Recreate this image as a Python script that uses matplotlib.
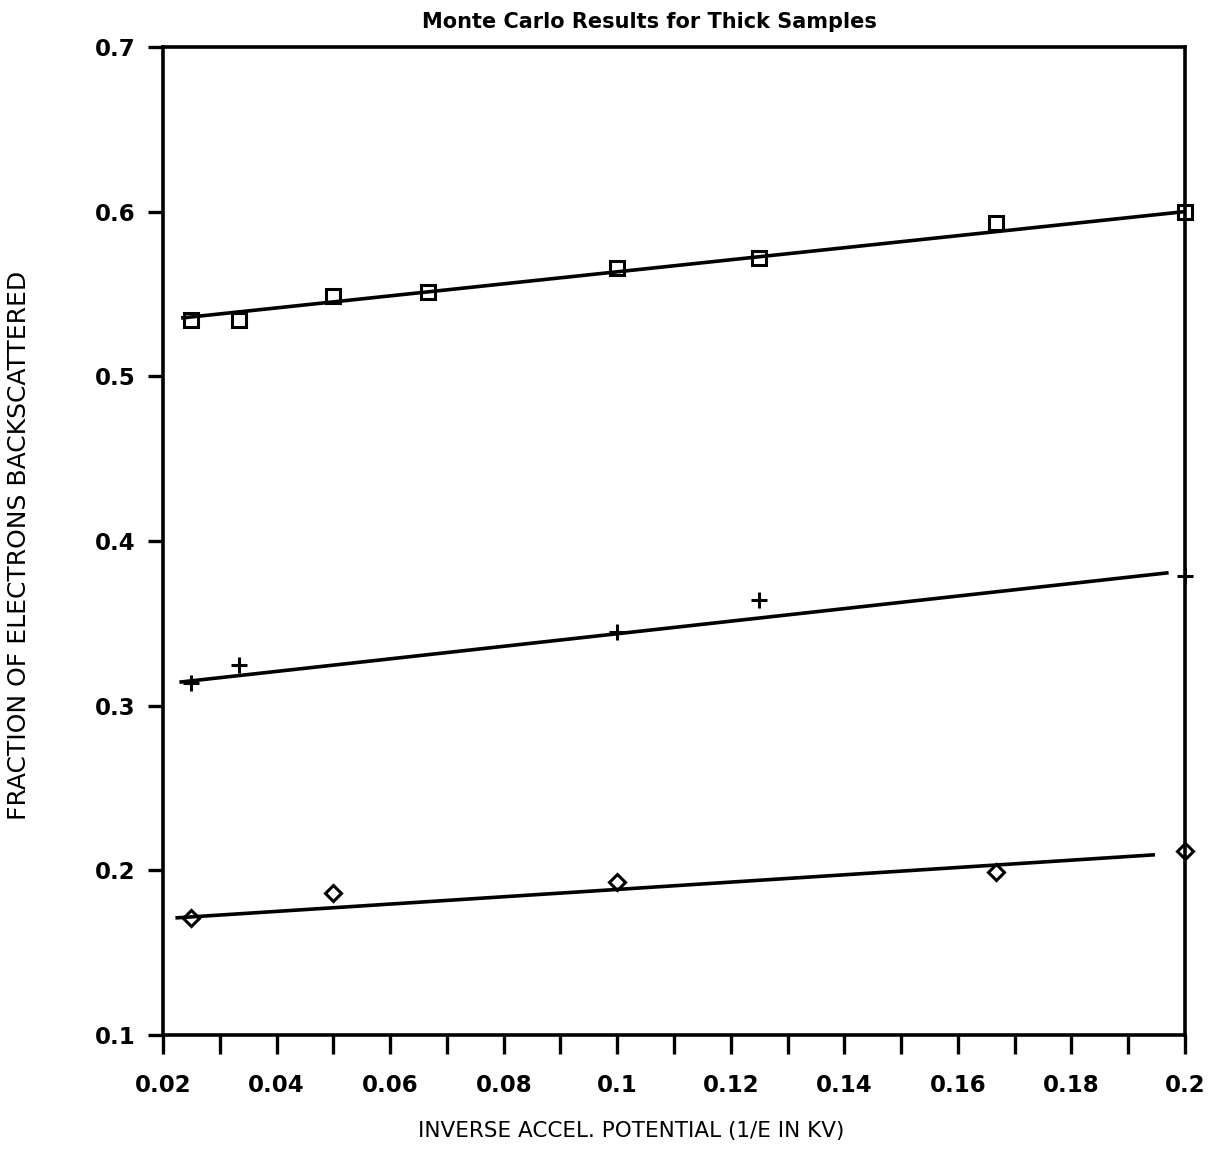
import matplotlib
matplotlib.use("Agg")
import matplotlib.pyplot as plt
import numpy as np

plt.rcParams['font.family'] = ['DejaVu Sans']

# Data
sq_x = [0.025, 0.0333, 0.05, 0.0667, 0.1, 0.125, 0.1667, 0.2]
sq_y = [0.534, 0.534, 0.549, 0.551, 0.566, 0.572, 0.593, 0.600]

pl_x = [0.025, 0.0333, 0.1, 0.125, 0.2]
pl_y = [0.314, 0.325, 0.345, 0.364, 0.379]

di_x = [0.025, 0.05, 0.1, 0.1667, 0.2]
di_y = [0.171, 0.186, 0.193, 0.199, 0.212]

# fitted lines (end points)
sq_fit_x = [0.0235, 0.2]
sq_fit_y = [0.5355, 0.600]
pl_fit_x = [0.0232, 0.1968]
pl_fit_y = [0.3144, 0.3806]
di_fit_x = [0.0225, 0.1944]
di_fit_y = [0.1712, 0.2094]

xticks = [0.02, 0.04, 0.06, 0.08, 0.1, 0.12, 0.14, 0.16, 0.18, 0.2]
xtick_labels = ['0.02', '0.04', '0.06', '0.08', '0.1', '0.12', '0.14', '0.16', '0.18', '0.2']
xminor = [0.03, 0.05, 0.07, 0.09, 0.11, 0.13, 0.15, 0.17, 0.19]
yticks = [0.1, 0.2, 0.3, 0.4, 0.5, 0.6, 0.7]
ytick_labels = ['0.1', '0.2', '0.3', '0.4', '0.5', '0.6', '0.7']

fig = plt.figure(figsize=(12.14, 11.73), dpi=100)
ax = fig.add_axes([0.1343, 0.1176, 0.8418, 0.8424])

ax.plot(sq_fit_x, sq_fit_y, color='black', lw=2.6)
ax.plot(pl_fit_x, pl_fit_y, color='black', lw=2.6)
ax.plot(di_fit_x, di_fit_y, color='black', lw=2.6)

ax.plot(sq_x, sq_y, ls='none', marker='s', ms=10, mfc='none', mec='black', mew=2.2, clip_on=False)
ax.plot(pl_x, pl_y, ls='none', marker='+', ms=12, mec='black', mew=2.2, clip_on=False)
ax.plot(di_x, di_y, ls='none', marker='D', ms=8, mfc='none', mec='black', mew=2.2, clip_on=False)

ax.set_xlim(0.02, 0.2)
ax.set_ylim(0.1, 0.7)
ax.set_xticks(xticks)
ax.set_xticklabels(xtick_labels, fontweight='bold')
ax.set_xticks(xminor, minor=True)
ax.set_yticks(yticks)
ax.set_yticklabels(ytick_labels, fontweight='bold')

for s in ax.spines.values():
    s.set_linewidth(2.6)

ax.tick_params(axis='x', which='both', direction='out', length=14, width=2.4, pad=14, labelsize=16.5)
ax.tick_params(axis='y', which='both', direction='out', length=11, width=2.4, pad=9, labelsize=16.5)

fig.text(0.535, 0.981, 'Monte Carlo Results for Thick Samples', ha='center', va='center',
         fontsize=15, fontweight='bold')
fig.text(0.52, 0.036, 'INVERSE ACCEL. POTENTIAL (1/E IN KV)', ha='center', va='center', fontsize=15.5)
fig.text(0.016, 0.535, 'FRACTION OF ELECTRONS BACKSCATTERED', ha='center', va='center',
         rotation=90, fontsize=18)

fig.savefig('out.png', dpi=100)
